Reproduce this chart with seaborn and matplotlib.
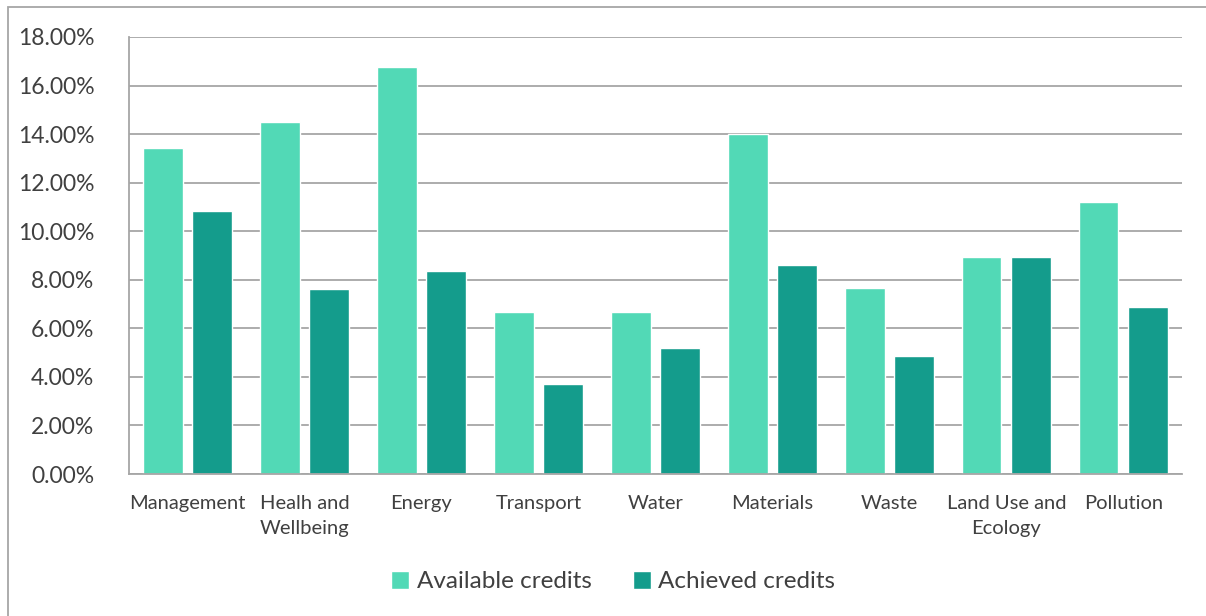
import pandas as pd
import seaborn as sns
import matplotlib.pyplot as plt
from matplotlib.patches import Rectangle
from matplotlib.ticker import PercentFormatter, MultipleLocator

categories = ['Management', 'Healh and\nWellbeing', 'Energy', 'Transport', 'Water',
              'Materials', 'Waste', 'Land Use and\nEcology', 'Pollution']
available = [13.43, 14.50, 16.76, 6.67, 6.67, 14.00, 7.66, 8.94, 11.20]
achieved = [10.83, 7.62, 8.36, 3.71, 5.19, 8.61, 4.86, 8.94, 6.88]
series = ['Available credits', 'Achieved credits']
colors = ['#52D9B6', '#149C8C']

df = pd.DataFrame({
    'category': categories * 2,
    'value': available + achieved,
    'series': [series[0]] * len(categories) + [series[1]] * len(categories),
})

sns.set_style('white')
plt.rcParams['font.family'] = ['Lato', 'DejaVu Sans']

fig = plt.figure(figsize=(12.06, 6.16), dpi=100)
ax = fig.add_axes([0.107, 0.2305, 0.873, 0.7095])

sns.barplot(data=df, x='category', y='value', hue='series', palette=colors,
            width=0.84, gap=0.2, saturation=1, ax=ax)

ax.set_ylim(0, 18)
ax.yaxis.set_major_locator(MultipleLocator(2))
ax.yaxis.set_major_formatter(PercentFormatter(decimals=2))
ax.grid(axis='y', color='#A6A6A6', linewidth=1.3)
ax.set_axisbelow(True)
for side in ['top', 'right']:
    ax.spines[side].set_visible(False)
for side in ['left', 'bottom']:
    ax.spines[side].set_color('#A6A6A6')
    ax.spines[side].set_linewidth(1.3)
ax.set_xlabel('')
ax.set_ylabel('')
ax.tick_params(axis='y', labelsize=16.5, colors='#404040', length=0, pad=25)
ax.tick_params(axis='x', labelsize=14.5, colors='#404040', length=0, pad=15)
for lbl in ax.get_xticklabels():
    lbl.set_linespacing(1.6)

ax.legend(loc='upper center', bbox_to_anchor=(0.46, -0.172), ncol=2, frameon=False,
          fontsize=17.5, handlelength=0.75, handleheight=0.75, handletextpad=0.3,
          columnspacing=1.7, labelcolor='#404040')

fig.add_artist(Rectangle((8 / 1206, -0.1), 1.1, 1.1 - 7 / 616, transform=fig.transFigure,
                         fill=False, edgecolor='#A6A6A6', linewidth=1.3))

fig.savefig('out.png', dpi=100)
